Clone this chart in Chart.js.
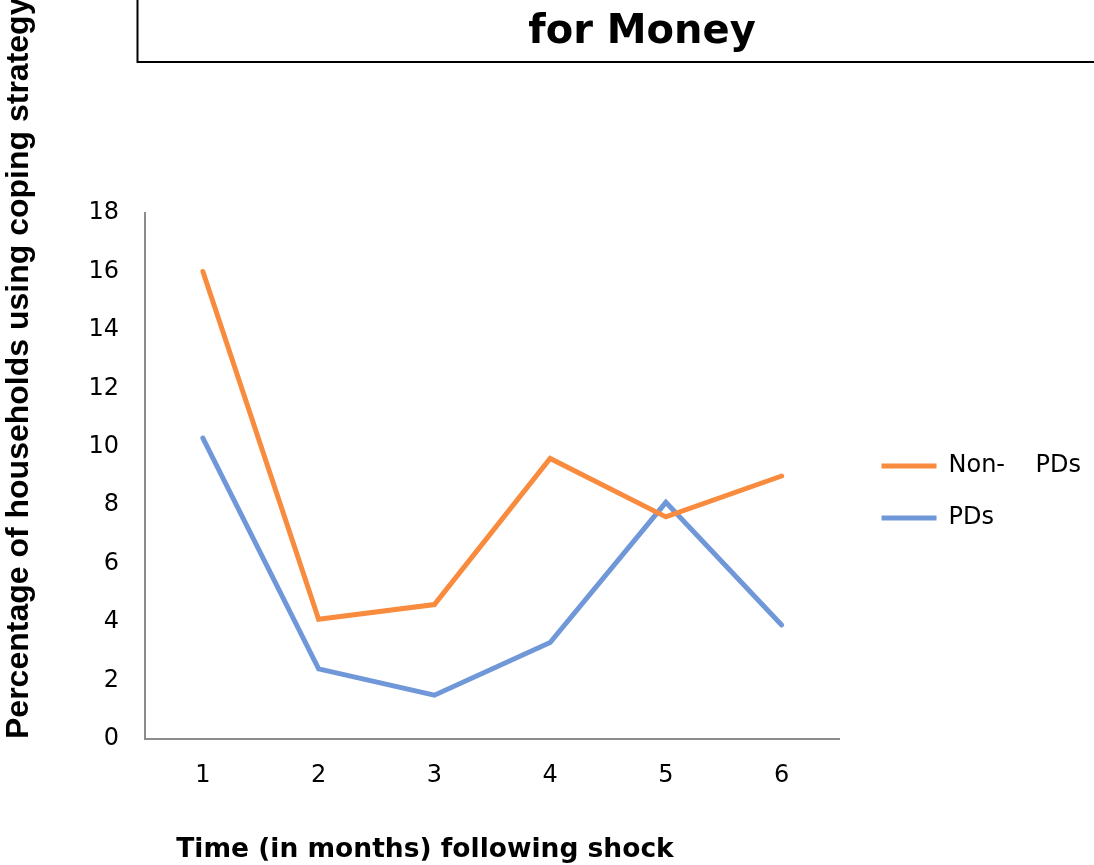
<!DOCTYPE html>
<html>
<head>
<meta charset="utf-8">
<script src="https://cdn.jsdelivr.net/npm/chart.js@4/dist/chart.umd.min.js"></script>
<style>
  html, body { margin: 0; padding: 0; background: #ffffff; }
  #wrap { width: 1094px; height: 865px; position: relative; }
</style>
</head>
<body>
<div id="wrap"><canvas id="c" width="1094" height="865"></canvas></div>
<script>
// ---- data ----
const months = ['1', '2', '3', '4', '5', '6'];
const nonPDs = [16.0, 4.1, 4.6, 9.6, 7.6, 9.0];
const pds = [10.3, 2.4, 1.5, 3.3, 8.1, 3.9];
const seriesNames = ['Non-    PDs', 'PDs'];
const chartTitle = 'for Money';
const xTitle = 'Time (in months) following shock';
const yTitle = 'Percentage of households using coping strategy';
const yMin = 0, yMax = 18, yStep = 2;

const ORANGE = '#F98B3E';
const BLUE = '#7098D9';
const TICK_FONT = 'DejaVu Sans';

const decorPlugin = {
  id: 'decor',
  afterLayout(chart) {
    const lg = chart.legend;
    if (lg) { lg.left += 14; lg.right += 14; lg.top -= 47; lg.bottom -= 47; }
  },
  afterDraw(chart) {
    const ctx = chart.ctx;
    ctx.save();
    // title box (cut off at top of the picture)
    ctx.strokeStyle = '#000000';
    ctx.lineWidth = 2;
    ctx.beginPath();
    ctx.moveTo(137.5, -5);
    ctx.lineTo(137.5, 62);
    ctx.lineTo(1100, 62);
    ctx.stroke();
    ctx.fillStyle = '#000000';
    ctx.textAlign = 'center';
    ctx.textBaseline = 'alphabetic';
    ctx.font = 'bold 40px "DejaVu Sans"';
    ctx.fillText(chartTitle, 642, 43);
    // x axis title
    ctx.font = 'bold 26.5px "DejaVu Sans"';
    ctx.fillText(xTitle, 425, 857);
    ctx.restore();
  }
};

new Chart(document.getElementById('c'), {
  type: 'line',
  data: {
    labels: months,
    datasets: [
      { label: seriesNames[0], data: nonPDs, borderColor: ORANGE, backgroundColor: ORANGE,
        borderWidth: 5, pointRadius: 0, tension: 0, borderCapStyle: 'round', borderJoinStyle: 'miter' },
      { label: seriesNames[1], data: pds, borderColor: BLUE, backgroundColor: BLUE,
        borderWidth: 5, pointRadius: 0, tension: 0, borderCapStyle: 'round', borderJoinStyle: 'miter' }
    ]
  },
  options: {
    responsive: false,
    animation: false,
    devicePixelRatio: 1,
    layout: { padding: { top: 213, right: 17, bottom: 0, left: 0 } },
    plugins: {
      title: { display: false },
      tooltip: { enabled: false },
      legend: {
        display: true,
        position: 'right',
        align: 'center',
        labels: {
          usePointStyle: true,
          pointStyle: 'line',
          pointStyleWidth: 55,
          boxWidth: 55,
          padding: 28,
          color: '#000000',
          font: { family: TICK_FONT, size: 24 }
        }
      }
    },
    scales: {
      x: {
        type: 'category',
        offset: true,
        grid: { display: false, drawTicks: false },
        border: { display: true, color: '#8C8C8C', width: 2 },
        ticks: { color: '#000000', padding: 22, font: { family: TICK_FONT, size: 24 } },
        afterFit(scale) { scale.height = 126; }
      },
      y: {
        min: yMin, max: yMax,
        grid: { display: false, drawTicks: false },
        border: { display: true, color: '#8C8C8C', width: 2 },
        ticks: { stepSize: yStep, color: '#000000', padding: 26, font: { family: TICK_FONT, size: 24 } },
        title: {
          display: true, text: yTitle, align: 'start', color: '#000000',
          font: { family: 'Liberation Sans', size: 32, weight: 'bold' },
          padding: { top: 0, bottom: 0 }
        },
        afterFit(scale) { scale.width = 145; }
      }
    }
  },
  plugins: [decorPlugin]
});
</script>
</body>
</html>
